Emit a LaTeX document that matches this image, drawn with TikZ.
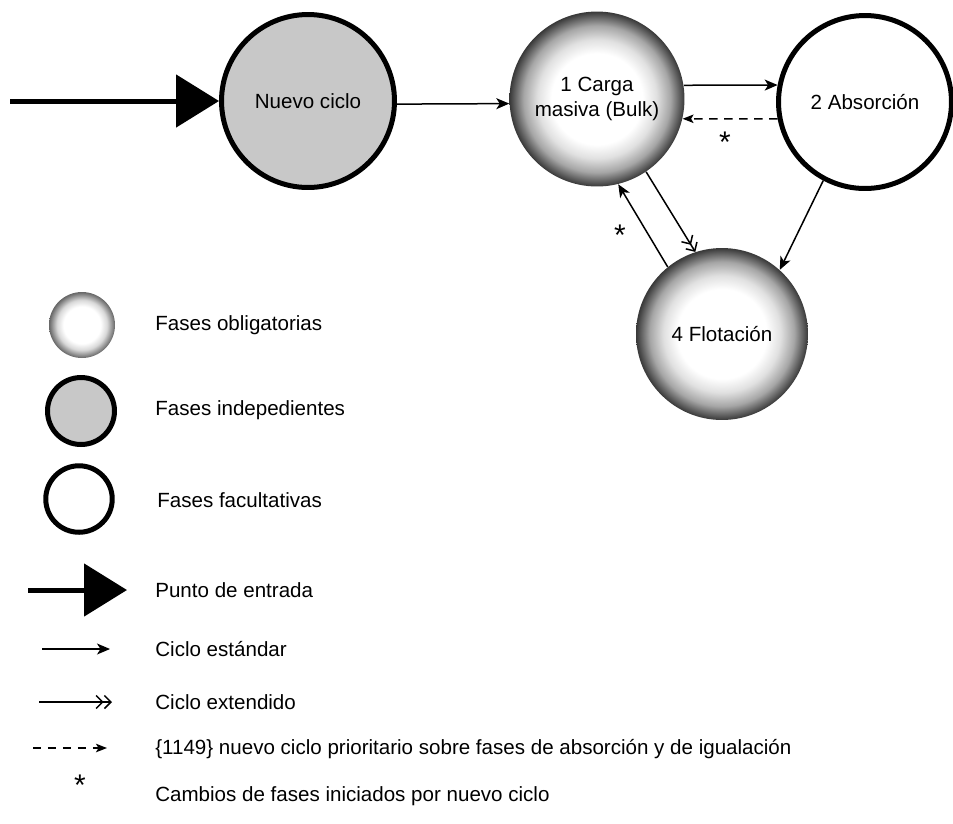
\documentclass[tikz,border=0pt]{standalone}
\usepackage{fontspec}
\setmainfont{Liberation Sans}
\usetikzlibrary{arrows.meta,positioning}
\definecolor{indepgray}{RGB}{200,200,200}
\pgfdeclareradialshading{oblig}{\pgfpoint{0bp}{0bp}}{%
  color(0bp)=(white); color(13bp)=(white); color(17bp)=(black!12);
  color(21bp)=(black!35); color(25bp)=(black!78); color(50bp)=(black!78)}
\pgfdeclareradialshading{obliglight}{\pgfpoint{0bp}{0bp}}{%
  color(0bp)=(white); color(14bp)=(white); color(19bp)=(black!15);
  color(25bp)=(black!60); color(50bp)=(black!60)}
\newcommand{\phasefont}{\fontsize{11.7}{14}\selectfont}
\tikzset{
  phase/.style   ={circle, inner sep=0pt, align=center,
                   font=\phasefont, minimum size=#1},
  phase/.default=3.5cm,
  obligbox/.style={phase=#1, shade, shading=oblig},
  obligbox/.default=3.5cm,
  indepbox/.style={phase=#1, draw, line width=0.1cm, fill=indepgray},
  indepbox/.default=3.46cm,
  facultbox/.style={phase=#1, draw, line width=0.1cm, fill=white},
  facultbox/.default=3.46cm,
  legtext/.style ={anchor=west, inner sep=0pt, font=\phasefont},
  asterisk/.style={inner sep=0pt, font=\fontsize{17}{17}\selectfont},
  %% connector styles
  entryarr/.style={-{Triangle[length=0.86cm,width=1.04cm]}, line width=0.1cm},
  stdarr/.style  ={-{Stealth[length=0.26cm,width=0.22cm,inset=0.07cm]},
                   line width=0.03cm},
  extarr/.style  ={-{Straight Barb[length=0.13cm,width=0.26cm,line width=0.03cm]
                     Straight Barb[length=0.13cm,width=0.26cm,line width=0.03cm]},
                   line width=0.03cm},
  prioarr/.style ={-{Stealth[length=0.22cm,width=0.17cm,inset=0.05cm]},
                   line width=0.03cm, dash pattern=on 0.17cm off 0.13cm},
}
\begin{document}
\begin{tikzpicture}[x=0.02cm, y=-0.02cm]
  \useasboundingbox (0,0) rectangle (953,823);
  %% phases
  \node[indepbox]          (nuevo) at (308,101) {Nuevo ciclo};
  \node[obligbox]          (carga) at (597,99)  {1 Carga\\masiva (Bulk)};
  \node[facultbox]         (absor) at (865,102) {2 Absorción};
  \node[obligbox=3.44cm]   (flot)  at (722,334) {4 Flotación};
  %% transitions
  \coordinate (start) at (10,101);
  \draw[entryarr](start)--(nuevo);
  \draw[stdarr](nuevo.-2)--(carga.183);
  \draw[stdarr](carga.9)--(absor.169);
  \draw[prioarr](absor.191)--(carga.-13);
  \draw[stdarr](flot.129)--(carga.-76);
  \draw[extarr](carga.-56)--(flot.108);
  \draw[stdarr](absor.242)--(flot.48);
  \node[asterisk] (ast1) at (725,142) {*};
  \node[asterisk] (ast2) at (620,235) {*};
  %% legend
  \node[phase=1.32cm, shade, shading=obliglight] (lgob) at (82,325) {};
  \node[indepbox=1.34cm]  (lgin)  at (81,411) {};
  \node[facultbox=1.33cm] (lgfa)  at (79,499) {};
  \node[legtext] (txob) at (155,325) {Fases obligatorias};
  \node[legtext] (txin) at (155,410) {Fases indepedientes};
  \node[legtext] (txfa) at (157,500) {Fases facultativas};
  \coordinate (enA) at (28,590);  \coordinate (enB) at (127,590);
  \coordinate (stA) at (42,649);  \coordinate (stB) at (110,649);
  \coordinate (exA) at (39,702);  \coordinate (exB) at (112,702);
  \coordinate (prA) at (33,748);  \coordinate (prB) at (107,748);
  \draw[entryarr](enA)--(enB);
  \draw[stdarr](stA)--(stB);
  \draw[extarr](exA)--(exB);
  \draw[prioarr](prA)--(prB);
  \node[asterisk] (lgast) at (80,785) {*};
  \node[legtext] (txen) at (155,590) {Punto de entrada};
  \node[legtext] (txst) at (155,649) {Ciclo estándar};
  \node[legtext] (txex) at (155,702) {Ciclo extendido};
  \node[legtext] (txpr) at (155,749) {\{1149\} nuevo ciclo prioritario sobre fases de absorción y de igualación};
  \node[legtext] (txas) at (155,796) {Cambios de fases iniciados por nuevo ciclo};
\end{tikzpicture}
\end{document}
